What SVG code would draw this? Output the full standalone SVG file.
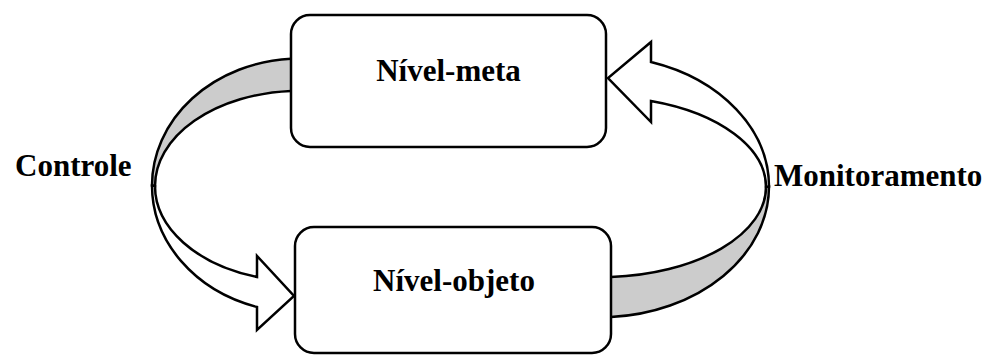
<svg xmlns="http://www.w3.org/2000/svg" width="989" height="355" viewBox="0 0 989 355">
  <style>
    .box { fill: #ffffff; stroke: #000000; stroke-width: 2.5; }
    .band-back { fill: #cccccc; stroke: #000000; stroke-width: 2.5; stroke-linejoin: miter; }
    .band-front { fill: #ffffff; stroke: #000000; stroke-width: 2.5; stroke-linejoin: miter; }
    .label { font-family: "Liberation Serif", "Times New Roman", serif; font-weight: bold; font-size: 31px; fill: #000000; }
  </style>
  <rect width="989" height="355" fill="#ffffff"/>

  <!-- curved block arrows: the grey part is the underside of the band -->
  <g id="connectors">
    <g id="controle-arrow">
      <path class="band-back" d="M 300,58.6 L 291,58.7 A 148 127 0 0 0 152,185.6 L 155,186 A 145 95.2 0 0 1 291,91 L 300,90.8 Z"/>
      <path class="band-front" d="M 152,185.6 A 148 127 0 0 0 257,307 L 257,330 L 294,296 L 257,256 L 257,277 A 145 95.2 0 0 1 155,186 Z"/>
    </g>
    <g id="monitoramento-arrow">
      <path class="band-back" d="M 600,317.3 L 611,317 A 169 130.7 0 0 0 769,186.6 L 766,186.9 A 166 90.3 0 0 1 611,277 L 600,277.2 Z"/>
      <path class="band-front" d="M 769,186.6 A 169 130.7 0 0 0 651,62 L 651,42 L 608,78 L 651,122 L 651,101 A 166 90.3 0 0 1 766,186.9 Z"/>
    </g>
  </g>

  <g id="nivel-meta">
    <rect class="box" x="291" y="15" width="315" height="132" rx="19" ry="19"/>
    <text class="label" x="448.5" y="81" text-anchor="middle">Nível-meta</text>
  </g>

  <g id="nivel-objeto">
    <rect class="box" x="295" y="227" width="316" height="126" rx="19" ry="19"/>
    <text class="label" x="454" y="291" text-anchor="middle">Nível-objeto</text>
  </g>

  <g id="label-controle">
    <text class="label" x="15" y="176">Controle</text>
  </g>

  <g id="label-monitoramento">
    <text class="label" x="774" y="186">Monitoramento</text>
  </g>
</svg>
